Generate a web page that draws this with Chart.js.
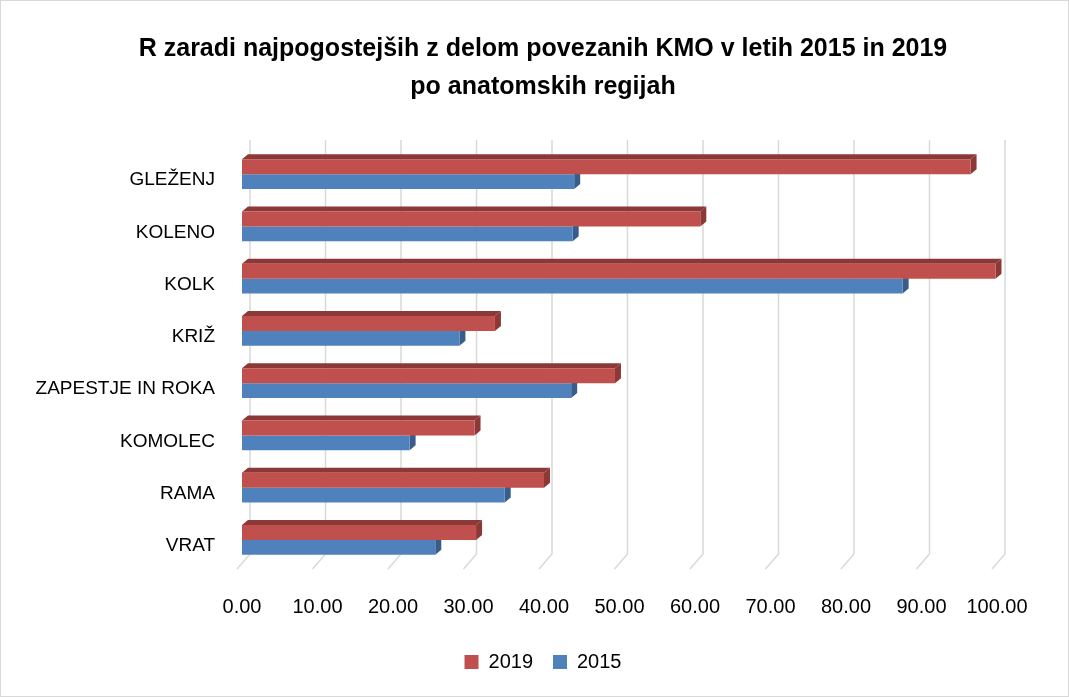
<!DOCTYPE html>
<html>
<head>
<meta charset="utf-8">
<script src="https://cdn.jsdelivr.net/npm/chart.js@4"></script>
<style>
  html, body { margin: 0; padding: 0; background: #fff; }
  .wrap { width: 1067px; height: 695px; border: 1px solid #d9d9d9; }
</style>
</head>
<body>
<div class="wrap"><canvas id="regijeChart" width="1067" height="695"></canvas></div>
<script>
// kategorije (od zgoraj navzdol) in vrednosti
const categories = ['GLEŽENJ', 'KOLENO', 'KOLK', 'KRIŽ', 'ZAPESTJE IN ROKA', 'KOMOLEC', 'RAMA', 'VRAT'];
const values2019 = [96.5, 60.7, 99.8, 33.5, 49.4, 30.8, 40.0, 31.0];
const values2015 = [44.0, 43.8, 87.5, 28.8, 43.6, 22.2, 34.8, 25.6];
const xTicks = [0, 10, 20, 30, 40, 50, 60, 70, 80, 90, 100];

const fontFamily = '"Liberation Sans", Arial, sans-serif';

// 3D videz: mreža v ozadju + stranske ploskve stolpcev
const bar3d = {
    id: 'bar3d',
    beforeDatasetsDraw(chart) {
        const ctx = chart.ctx;
        const area = chart.chartArea;
        const xs = chart.scales.x;
        ctx.save();
        ctx.strokeStyle = '#d9d9d9';
        ctx.lineWidth = 1.5;
        xTicks.forEach(function (t) {
            const x = xs.getPixelForValue(t);
            ctx.beginPath();
            ctx.moveTo(x + 8, area.top - 8);
            ctx.lineTo(x + 8, area.bottom - 12);
            ctx.lineTo(x - 5, area.bottom + 3);
            ctx.stroke();
        });

        // stranske ploskve
        const dx = 6, dy = 5;
        const shades = ['#8c3836', '#385d8a'];
        chart.data.datasets.forEach(function (ds, i) {
            const meta = chart.getDatasetMeta(i);
            meta.data.forEach(function (bar) {
                const p = bar.getProps(['x', 'y', 'base', 'height'], true);
                const top = p.y - p.height / 2;
                const bottom = p.y + p.height / 2;
                ctx.fillStyle = shades[i];
                // desna ploskev
                ctx.beginPath();
                ctx.moveTo(p.x, top);
                ctx.lineTo(p.x + dx, top - dy);
                ctx.lineTo(p.x + dx, bottom - dy);
                ctx.lineTo(p.x, bottom);
                ctx.closePath();
                ctx.fill();
                // zgornja ploskev samo za zgornji stolpec
                if (i === 0) {
                    ctx.beginPath();
                    ctx.moveTo(p.base, top);
                    ctx.lineTo(p.base + dx, top - dy);
                    ctx.lineTo(p.x + dx, top - dy);
                    ctx.lineTo(p.x, top);
                    ctx.closePath();
                    ctx.fill();
                }
            });
        });
        ctx.restore();
    }
};

const ctx = document.getElementById('regijeChart').getContext('2d');
new Chart(ctx, {
    type: 'bar',
    data: {
        labels: categories,
        datasets: [{
            label: '2019',
            data: values2019,
            backgroundColor: '#c0504d',
            borderWidth: 0
        }, {
            label: '2015',
            data: values2015,
            backgroundColor: '#4f81bd',
            borderWidth: 0
        }]
    },
    options: {
        indexAxis: 'y',
        responsive: false,
        animation: false,
        categoryPercentage: 0.57,
        barPercentage: 1.0,
        layout: { padding: { left: 17, right: 0, top: 0, bottom: 14 } },
        plugins: {
            title: {
                display: true,
                text: ['R zaradi najpogostejših z delom povezanih KMO v letih 2015 in 2019', 'po anatomskih regijah'],
                color: '#000',
                font: { family: fontFamily, size: 25, weight: 'bold', lineHeight: 1.52 },
                padding: { top: 29, bottom: 42 }
            },
            legend: {
                display: true,
                position: 'bottom',
                labels: {
                    color: '#000',
                    font: { family: fontFamily, size: 20 },
                    boxWidth: 14,
                    boxHeight: 14,
                    padding: 20
                }
            },
            tooltip: { enabled: false }
        },
        scales: {
            x: {
                min: 0,
                max: 100,
                afterFit: function (scale) { scale.height = 66; },
                afterBuildTicks: function (scale) {
                    scale.ticks = xTicks.map(function (v) { return { value: v }; });
                },
                grid: { display: false },
                border: { display: false },
                ticks: {
                    color: '#000',
                    font: { family: fontFamily, size: 20 },
                    padding: 21,
                    maxRotation: 0,
                    callback: function (v) { return Number(v).toFixed(2); }
                }
            },
            y: {
                afterFit: function (scale) { scale.width = 224; },
                grid: { display: false },
                border: { display: false },
                ticks: {
                    color: '#000',
                    font: { family: fontFamily, size: 19 },
                    padding: 19,
                    labelOffset: 6
                }
            },
            // prazen desni rob (za zamik naslova in legende)
            yRight: {
                type: 'category',
                position: 'right',
                afterFit: function (scale) { scale.width = 71; },
                grid: { display: false },
                border: { display: false },
                ticks: { display: false }
            }
        }
    },
    plugins: [bar3d]
});
</script>
</body>
</html>
